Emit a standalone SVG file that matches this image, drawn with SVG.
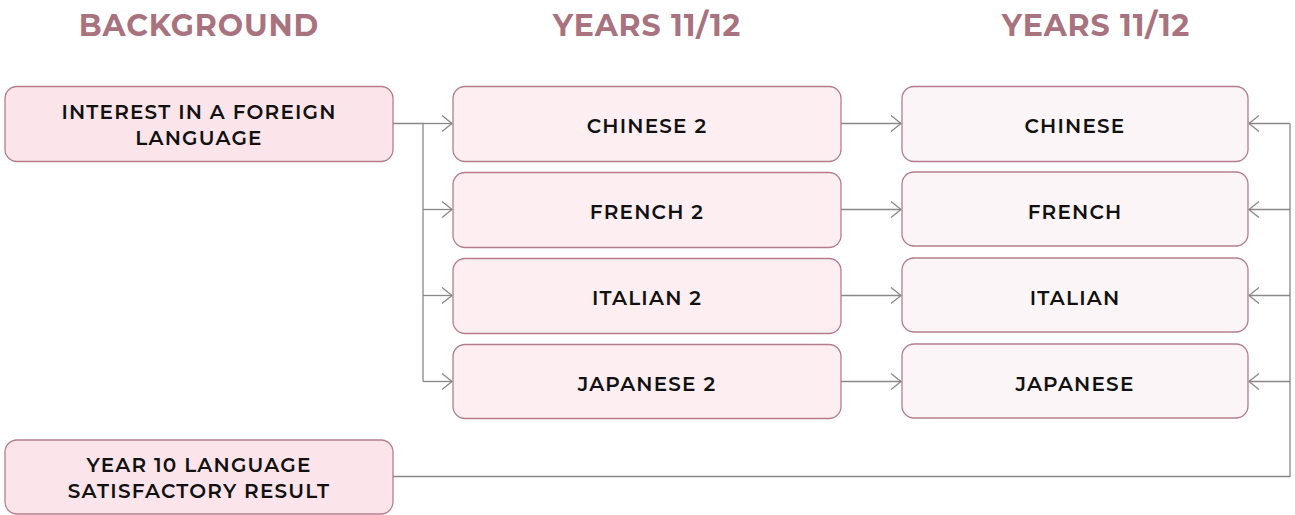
<svg xmlns="http://www.w3.org/2000/svg" width="1295" height="515" viewBox="0 0 1295 515">
<style>
.hd{font-family:"Montserrat","Lato","Liberation Sans",sans-serif;font-weight:700;font-size:30px;fill:#A9727F;text-anchor:middle;letter-spacing:0.9px}
.t{font-family:"Montserrat","Lato","Liberation Sans",sans-serif;font-weight:600;font-size:20px;fill:#111;text-anchor:middle;letter-spacing:1.2px}
.bl{fill:#FCE5EA;stroke:#B57D8C;stroke-width:1.3}
.bm{fill:#FDEEF2;stroke:#B57D8C;stroke-width:1.3}
.br{fill:#FCF5F7;stroke:#B57D8C;stroke-width:1.3}
.c{fill:none;stroke:#888;stroke-width:1.3}
</style>
<defs>
<marker id="a" markerUnits="userSpaceOnUse" markerWidth="14" markerHeight="20" refX="11" refY="9" orient="auto">
<path d="M1,1 L11,9 L1,17" fill="none" stroke="#888" stroke-width="1.3"/>
</marker>
</defs>
<text class="hd" x="199" y="36">BACKGROUND</text>
<text class="hd" x="647" y="36">YEARS 11/12</text>
<text class="hd" x="1096" y="36">YEARS 11/12</text>
<g id="connectors">
<path class="c" d="M393,123.5 H423 V381.5"/>
<path class="c" d="M423,123.5 H452" marker-end="url(#a)"/>
<path class="c" d="M423,209.5 H452" marker-end="url(#a)"/>
<path class="c" d="M423,295.5 H452" marker-end="url(#a)"/>
<path class="c" d="M423,381.5 H452" marker-end="url(#a)"/>
<path class="c" d="M841,123.5 H901" marker-end="url(#a)"/>
<path class="c" d="M841,209.5 H901" marker-end="url(#a)"/>
<path class="c" d="M841,295.5 H901" marker-end="url(#a)"/>
<path class="c" d="M841,381.5 H901" marker-end="url(#a)"/>
<path class="c" d="M393,476.5 H1290 V123.5"/>
<path class="c" d="M1290,123.5 H1249" marker-end="url(#a)"/>
<path class="c" d="M1290,209.5 H1249" marker-end="url(#a)"/>
<path class="c" d="M1290,295.5 H1249" marker-end="url(#a)"/>
<path class="c" d="M1290,381.5 H1249" marker-end="url(#a)"/>
</g>
<g id="interest"><rect class="bl" x="5" y="86.5" width="388" height="75" rx="12"/><text class="t" x="199" y="119">INTEREST IN A FOREIGN</text><text class="t" x="199" y="145">LANGUAGE</text></g>
<g id="year10"><rect class="bl" x="5" y="440" width="388" height="74" rx="12"/><text class="t" x="199" y="472">YEAR 10 LANGUAGE</text><text class="t" x="199" y="498">SATISFACTORY RESULT</text></g>
<g id="chinese2"><rect class="bm" x="453" y="86.5" width="388" height="75" rx="12"/><text class="t" x="647" y="133">CHINESE 2</text></g>
<g id="french2"><rect class="bm" x="453" y="172.5" width="388" height="75" rx="12"/><text class="t" x="647" y="219">FRENCH 2</text></g>
<g id="italian2"><rect class="bm" x="453" y="258.5" width="388" height="75" rx="12"/><text class="t" x="647" y="305">ITALIAN 2</text></g>
<g id="japanese2"><rect class="bm" x="453" y="344.5" width="388" height="74" rx="12"/><text class="t" x="647" y="391">JAPANESE 2</text></g>
<g id="chinese"><rect class="br" x="902" y="86.5" width="346" height="75" rx="12"/><text class="t" x="1075" y="133">CHINESE</text></g>
<g id="french"><rect class="br" x="902" y="172" width="346" height="74" rx="12"/><text class="t" x="1075" y="219">FRENCH</text></g>
<g id="italian"><rect class="br" x="902" y="258" width="346" height="74" rx="12"/><text class="t" x="1075" y="305">ITALIAN</text></g>
<g id="japanese"><rect class="br" x="902" y="344" width="346" height="74" rx="12"/><text class="t" x="1075" y="391">JAPANESE</text></g>
</svg>
